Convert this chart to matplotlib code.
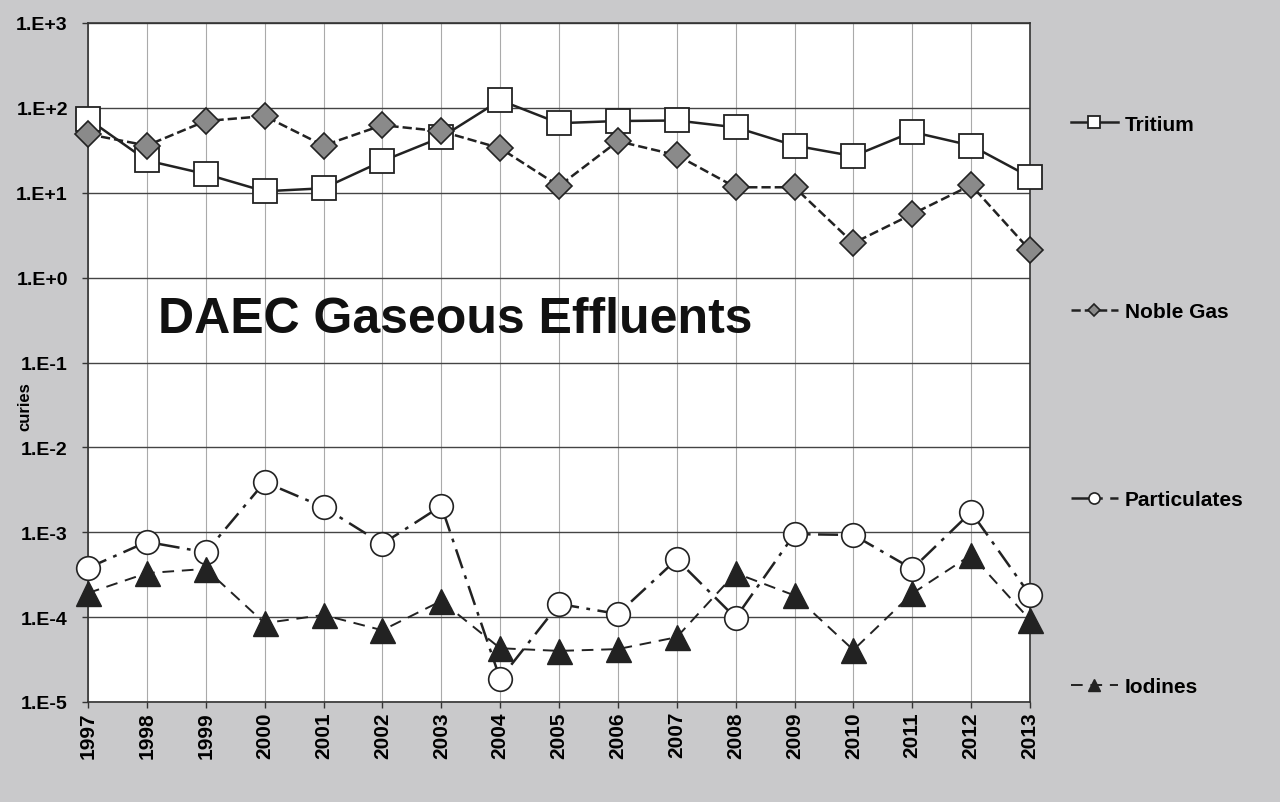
import matplotlib.pyplot as plt
from matplotlib.ticker import FixedLocator, NullLocator

years = [str(y) for y in range(1997, 2014)]
tritium = [74, 24, 16.6, 10.4, 11.3, 23.6, 45, 123, 66, 70, 71, 59, 36, 27, 52, 36, 15.3]
noble_gas = [49, 36, 70, 80, 36, 62.5, 53, 33.5, 12, 40.5, 27.7, 11.6, 11.6, 2.55, 5.6, 12.3, 2.1]
particulates = [3.8e-4, 7.7e-4, 5.8e-4, 3.9e-3, 1.98e-3, 7.3e-4, 2.04e-3, 1.87e-5, 1.43e-4,
                1.09e-4, 4.8e-4, 9.8e-5, 9.5e-4, 9.3e-4, 3.7e-4, 1.73e-3, 1.82e-4]
iodines = [1.92e-4, 3.3e-4, 3.7e-4, 8.5e-5, 1.06e-4, 7.0e-5, 1.55e-4, 4.3e-5, 4.0e-5,
           4.2e-5, 5.8e-5, 3.3e-4, 1.8e-4, 4.1e-5, 1.9e-4, 5.4e-4, 9.3e-5]
ytick_vals = [1e-5, 1e-4, 1e-3, 1e-2, 1e-1, 1e0, 1e1, 1e2, 1e3]
ytick_labels = ["1.E-5", "1.E-4", "1.E-3", "1.E-2", "1.E-1", "1.E+0", "1.E+1", "1.E+2", "1.E+3"]

plt.rcParams['font.family'] = ['Liberation Sans', 'DejaVu Sans']
bg = '#c9c9cb'

fig = plt.figure(figsize=(12.8, 8.03), dpi=100, facecolor=bg)
ax = fig.add_axes([88/1280, 100/803, 942/1280, 679/803])
ax.set_facecolor('white')
x = list(range(len(years)))

l1, = ax.plot(x, tritium, '-', color='#222222', lw=1.8, marker='s', ms=17,
              mfc='white', mec='#222222', mew=1.3, label='Tritium', zorder=3, clip_on=False)
l2, = ax.plot(x, noble_gas, '--', color='#222222', lw=1.8, marker='D', ms=13,
              mfc='#8a8a8a', mec='#222222', mew=1.2, label='Noble Gas', zorder=3, clip_on=False)
l3, = ax.plot(x, particulates, color='#222222', lw=1.8, ls=(0, (8, 3, 1.5, 3)), marker='o', ms=17,
              mfc='white', mec='#222222', mew=1.2, label='Particulates', zorder=3, clip_on=False)
l4, = ax.plot(x, iodines, color='#222222', lw=1.4, ls=(0, (6, 4)), marker='^', ms=18,
              mfc='#222222', mec='#222222', label='Iodines', zorder=3, clip_on=False)

ax.set_yscale('log')
ax.set_ylim(1e-5, 1e3)
ax.set_xlim(0, len(years) - 1)
ax.yaxis.set_major_locator(FixedLocator(ytick_vals))
ax.yaxis.set_minor_locator(NullLocator())
ax.set_yticklabels(ytick_labels, fontsize=14, fontweight='bold')
ax.set_xticks(x)
ax.set_xticklabels(years, rotation=90, fontsize=15, fontweight='bold')
ax.tick_params(axis='y', length=4.5, width=1, color='#333333', pad=10)
ax.tick_params(axis='x', length=4, width=1, color='#333333', pad=2.5)
ax.grid(axis='y', color='#444444', lw=1.0)
ax.grid(axis='x', color='#aaaaaa', lw=0.8)
for s in ax.spines.values():
    s.set_color('#333333')
    s.set_linewidth(1.2)

ax.text(0.074, 1 - (320 - 24) / 679, 'DAEC Gaseous Effluents', transform=ax.transAxes,
        fontsize=36, fontweight='bold', color='#111111', va='center')
fig.text(25/1280, 1 - 407/803, 'curies', rotation=90, fontsize=12, fontweight='bold',
         va='center', ha='center')

leg = fig.legend(handles=[l1, l2, l3, l4], loc='upper left', bbox_to_anchor=(1052/1280, 1 - 97/803),
                 frameon=False, labelspacing=8.09, handlelength=2.25, handletextpad=0.35,
                 markerscale=0.47, prop={'weight': 'bold', 'size': 15})

fig.savefig('out.png', dpi=100, facecolor=bg)
